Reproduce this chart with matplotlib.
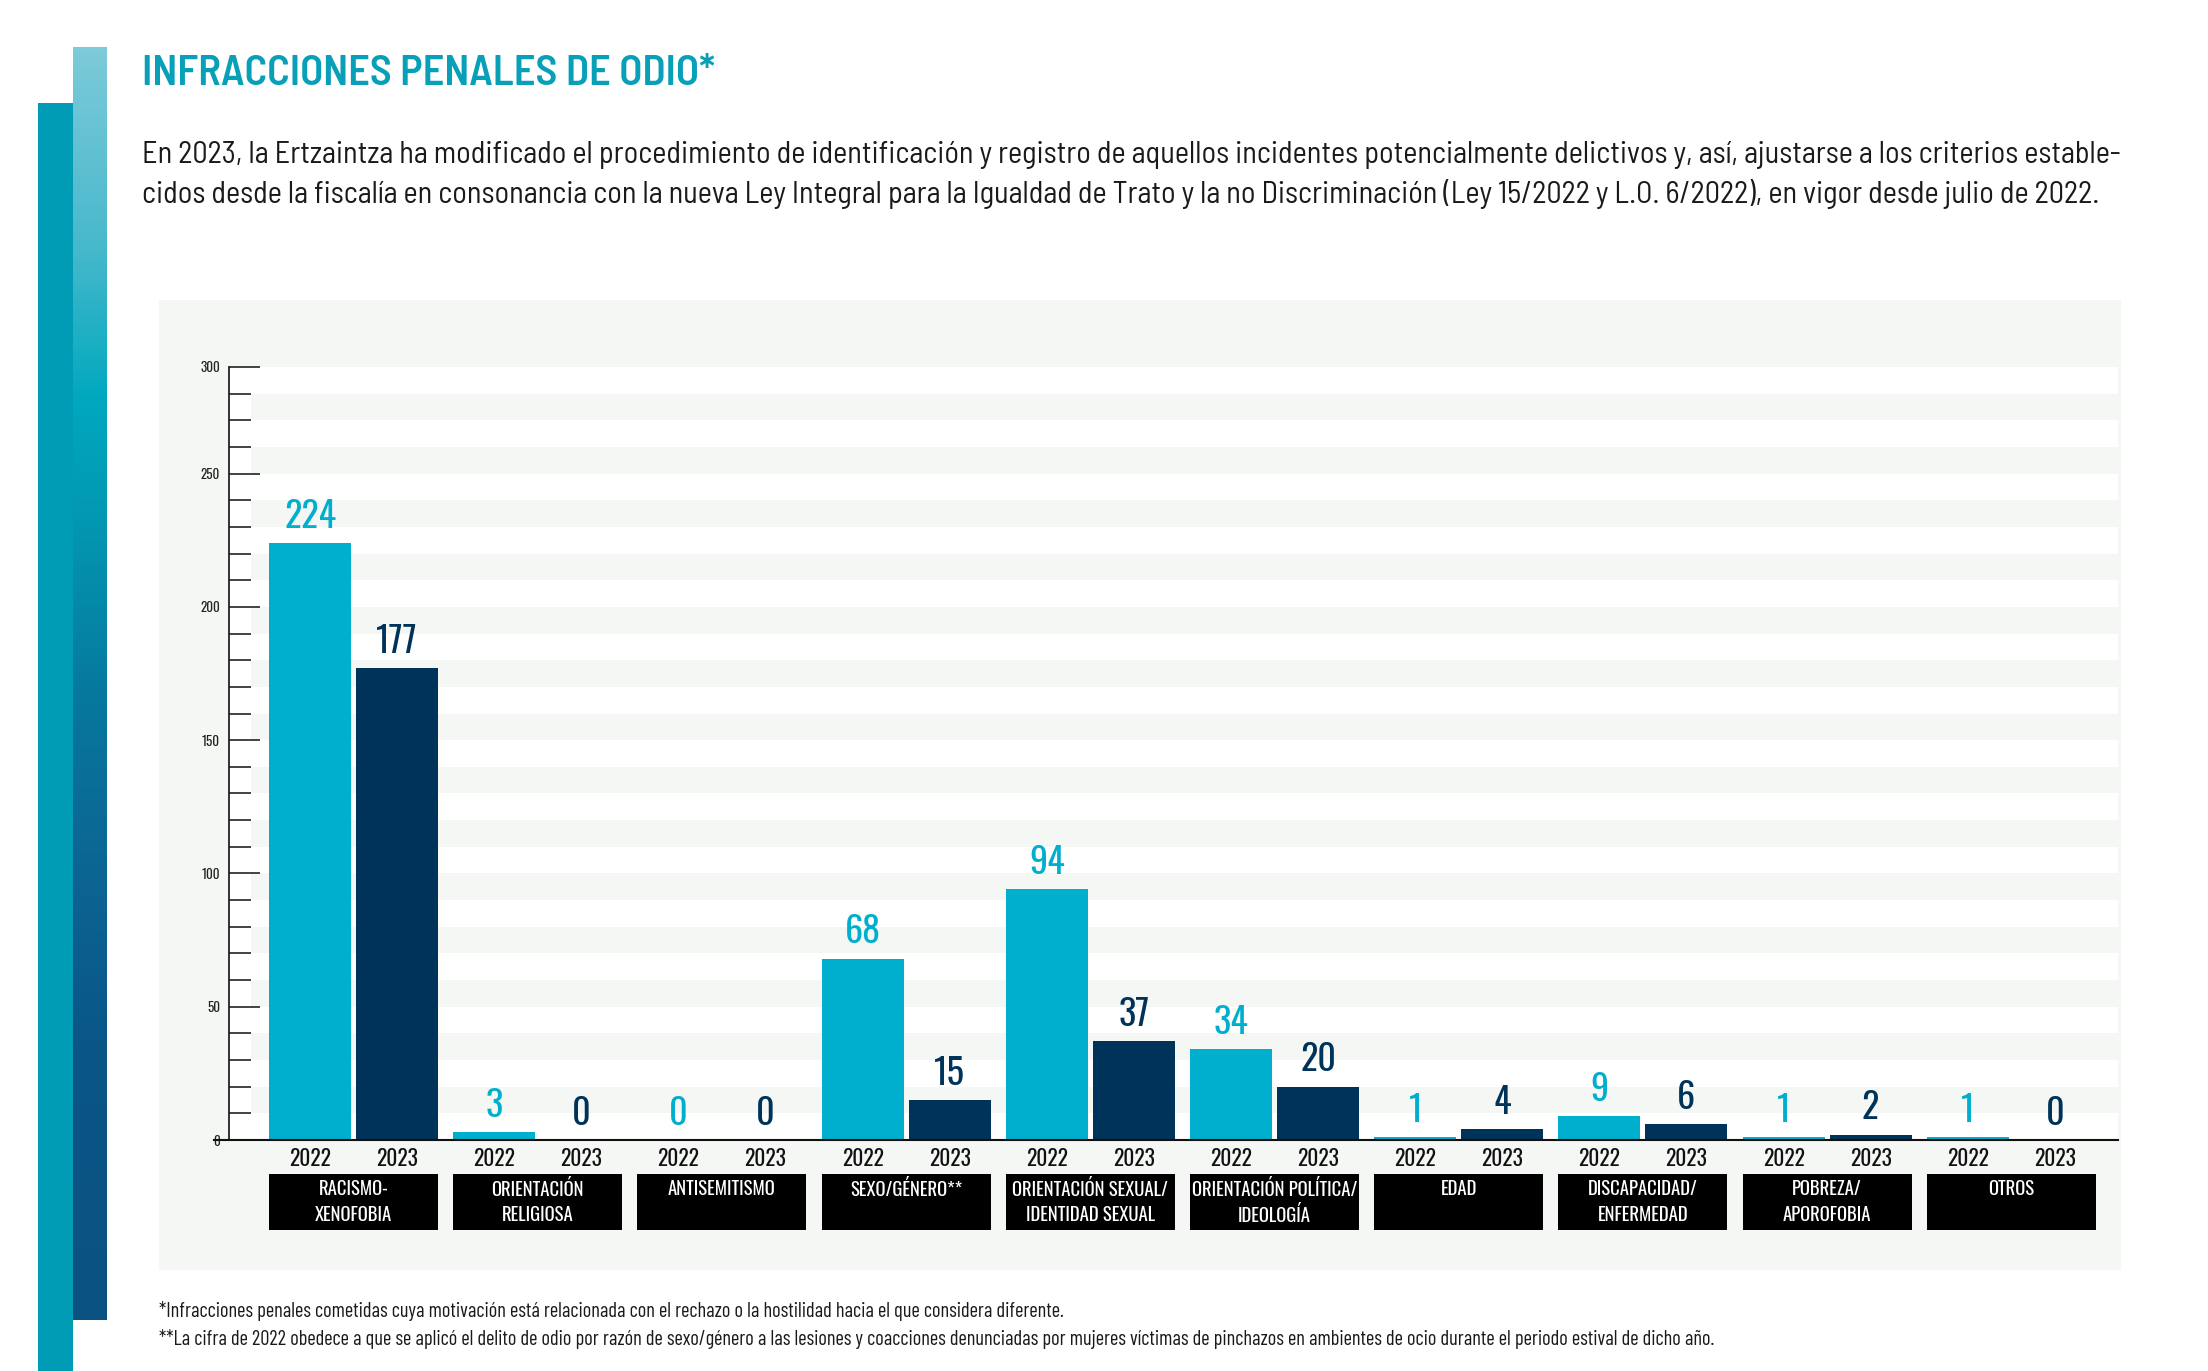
import numpy as np
import matplotlib
matplotlib.use('Agg')
import matplotlib.pyplot as plt
from matplotlib.patches import Rectangle
from matplotlib.colors import LinearSegmentedColormap
import matplotlib.transforms as mtransforms

# fuentes condensadas
TXT = ['Barlow Condensed', 'Oswald', 'DejaVu Sans']
SEMI = ['Barlow Semi Condensed', 'Barlow Condensed', 'DejaVu Sans']
NUM = ['Oswald', 'Barlow Condensed', 'DejaVu Sans']
plt.rcParams['font.family'] = TXT

# --- datos ---
categorias = ["RACISMO-\nXENOFOBIA", "ORIENTACIÓN\nRELIGIOSA", "ANTISEMITISMO", "SEXO/GÉNERO**",
              "ORIENTACIÓN SEXUAL/\nIDENTIDAD SEXUAL", "ORIENTACIÓN POLÍTICA/\nIDEOLOGÍA", "EDAD",
              "DISCAPACIDAD/\nENFERMEDAD", "POBREZA/\nAPOROFOBIA", "OTROS"]
valores_2022 = [224, 3, 0, 68, 94, 34, 1, 9, 1, 1]
valores_2023 = [177, 0, 0, 15, 37, 20, 4, 6, 2, 0]
anios = ["2022", "2023"]
yticks = [0, 50, 100, 150, 200, 250, 300]

titulo = "INFRACCIONES PENALES DE ODIO*"
parrafo = ["En 2023, la Ertzaintza ha modificado el procedimiento de identificación y registro de aquellos incidentes potencialmente delictivos y, así, ajustarse a los criterios estable-",
           "cidos desde la fiscalía en consonancia con la nueva Ley Integral para la Igualdad de Trato y la no Discriminación (Ley 15/2022 y L.O. 6/2022), en vigor desde julio de 2022."]
notas = ["*Infracciones penales cometidas cuya motivación está relacionada con el rechazo o la hostilidad hacia el que considera diferente.",
         "**La cifra de 2022 obedece a que se aplicó el delito de odio por razón de sexo/género a las lesiones y coacciones denunciadas por mujeres víctimas de pinchazos en ambientes de ocio durante el periodo estival de dicho año."]

C22 = '#00afcd'
C23 = '#00335a'
TEAL = '#08a0b9'
PANEL = '#f5f7f5'

W, H = 2208, 1371
fig = plt.figure(figsize=(W / 100, H / 100), dpi=100)
fig.patch.set_facecolor('white')

# --- barras decorativas de la izquierda ---
ax_d1 = fig.add_axes([38 / W, 0, 35 / W, (H - 103) / H])
ax_d1.set_facecolor('#009cb6')
ax_d1.set_xticks([]); ax_d1.set_yticks([])
for s in ax_d1.spines.values():
    s.set_visible(False)

grad_y = [47, 250, 398, 530, 702, 874, 1046, 1320]
grad_c = ['#7dcad9', '#45b8cb', '#00a8bf', '#0396b1', '#07779d', '#0c6593', '#095687', '#0b5281']
cmap = LinearSegmentedColormap.from_list('deco', [((y - 47) / (1320 - 47), c) for y, c in zip(grad_y, grad_c)])
ax_d2 = fig.add_axes([73 / W, 1 - 1320 / H, 34 / W, (1320 - 47) / H])
ax_d2.imshow(np.linspace(0, 1, 400).reshape(-1, 1), cmap=cmap, aspect='auto', interpolation='bilinear')
ax_d2.axis('off')

# --- textos superiores ---
fig.text(142 / W, 1 - 74 / H, titulo, color=TEAL, fontsize=30.6, fontweight='semibold', family=SEMI,
         va='center', ha='left')
fig.text(142 / W, 1 - 155 / H, parrafo[0], color='#1a1a1a', fontsize=21.8, family=SEMI, va='center', ha='left')
fig.text(142 / W, 1 - 194 / H, parrafo[1], color='#1a1a1a', fontsize=21.8, family=SEMI, va='center', ha='left')

# --- panel gris ---
fig.patches.append(Rectangle((159 / W, 1 - 1270 / H), (2121 - 159) / W, (1270 - 300) / H,
                             transform=fig.transFigure, facecolor=PANEL, edgecolor='none', zorder=-5))

# --- grafico ---
x0, x1 = 229, 2118
yb, yt = 1140, 367
ax = fig.add_axes([x0 / W, 1 - yb / H, (x1 - x0) / W, (yb - yt) / H])
ax.set_facecolor('white')


def fwd(y):
    y = np.asarray(y, dtype=float)
    return np.where(y <= 250, y, 250 + (y - 250) * 0.8)


def inv(t):
    t = np.asarray(t, dtype=float)
    return np.where(t <= 250, t, 250 + (t - 250) / 0.8)


# el eje original comprime el tramo 250-300
ax.set_yscale('function', functions=(fwd, inv))
ax.set_ylim(0, 300)
n = len(categorias)
x = np.arange(n)
ax.set_xlim(-0.676, 9.579)

# franjas alternas (cada intervalo de marca)
tick_px = 22 / (x1 - x0)
for k in range(1, 29, 2):
    lo, hi = inv(k * 10), inv(k * 10 + 10)
    ax.axhspan(float(lo), float(hi), xmin=tick_px, xmax=1, facecolor=PANEL, edgecolor='none', zorder=0)

ancho = 0.445
off = 0.236
ax.bar(x - off, valores_2022, ancho, color=C22, zorder=3)
ax.bar(x + off, valores_2023, ancho, color=C23, zorder=3)

for xi, v in zip(x, valores_2022):
    ax.annotate(str(v), (xi - off, v), xytext=(0, 6), textcoords='offset points', family=NUM,
                ha='center', va='bottom', fontsize=26, color=C22, zorder=4)
for xi, v in zip(x, valores_2023):
    ax.annotate(str(v), (xi + off, v), xytext=(0, 6), textcoords='offset points', family=NUM,
                ha='center', va='bottom', fontsize=26, color=C23, zorder=4)

# ejes
for s in ['top', 'right', 'bottom']:
    ax.spines[s].set_visible(False)
ax.spines['left'].set_linewidth(1.2)
ax.spines['left'].set_color('#111111')
ax.axhline(0, xmin=-15 / (x1 - x0), xmax=1, color='#111111', lw=1.5, clip_on=False, zorder=5)

menores = [v for v in range(10, 250, 10) if v % 50] + [262.5, 275, 287.5]
ax.set_yticks(yticks)
ax.set_yticks(menores, minor=True)
ax.set_yticklabels([str(t) for t in yticks], family=NUM)
ax.tick_params(axis='y', which='major', direction='in', length=22.3, width=1.1, color='#111111',
               pad=6.5, labelsize=9.5, labelcolor='#222222')
ax.tick_params(axis='y', which='minor', direction='in', length=15.8, width=1.1, color='#111111')
ax.set_xticks([])

# etiquetas de año y categorias
trans = mtransforms.blended_transform_factory(ax.transData, ax.transAxes)
hpx = yb - yt
for xi, cat in zip(x, categorias):
    for dx, a in zip([-off, off], anios):
        ax.text(xi + dx, -19 / hpx, a, transform=trans, ha='center', va='center', family=NUM,
                fontsize=15.5, color='#111111', clip_on=False)
    ax.add_patch(Rectangle((xi - 0.4585, -90 / hpx), 0.917, 56 / hpx, transform=trans,
                           facecolor='black', edgecolor='none', clip_on=False))
    lineas = cat.split('\n')
    for i, ln in enumerate(lineas):
        ax.text(xi, -(49 + 26 * i) / hpx, ln, transform=trans, ha='center', va='center', family=NUM,
                fontsize=13.5, color='white', clip_on=False)

# notas al pie
fig.text(159 / W, 1 - 1311 / H, notas[0], color='#1a1a1a', fontsize=14.7, va='center', ha='left')
fig.text(159 / W, 1 - 1339 / H, notas[1], color='#1a1a1a', fontsize=14.7, va='center', ha='left')

fig.savefig('out.png', dpi=100, facecolor='white')
